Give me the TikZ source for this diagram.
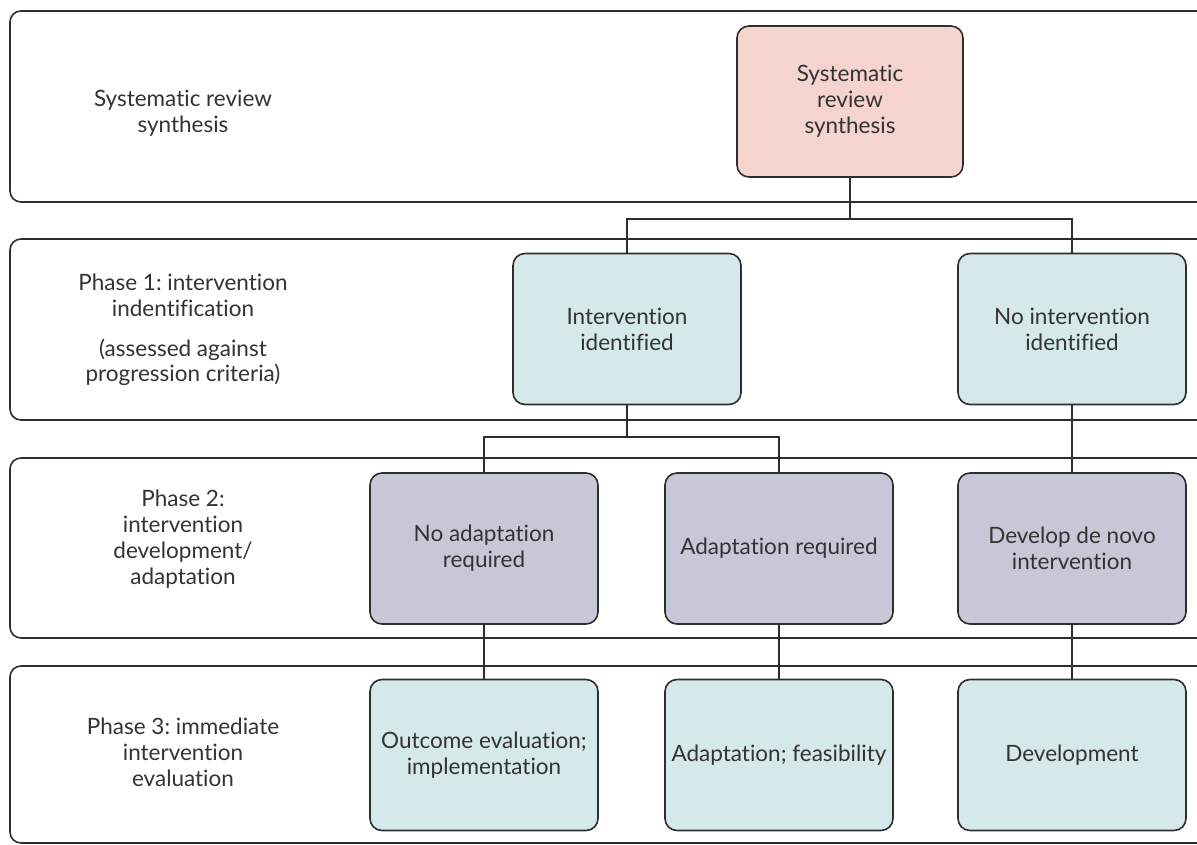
\documentclass[tikz,border=0pt]{standalone}
\usepackage{fontspec}
\setmainfont{Lato}[Ligatures=NoCommon]
\frenchspacing
\begin{document}
\begin{tikzpicture}[x=1pt,y=-1pt,
  every node/.style={font=\fontsize{22.5}{25.8}\selectfont, text=textc},
  band/.style={draw=linec, line width=1.6pt, rounded corners=11pt},
  stage/.style={draw=linec, line width=1.6pt, rounded corners=12pt,
    minimum width=228pt, minimum height=151pt, align=center, inner sep=1pt},
  label/.style={align=center},
  link/.style={draw=linec, line width=1.6pt}]
\definecolor{textc}{HTML}{333333}
\definecolor{linec}{HTML}{2E2E2E}
\definecolor{pinkf}{HTML}{F5D3CF}
\definecolor{bluef}{HTML}{D5E8EA}
\definecolor{lavf}{HTML}{C6C8D8}

\useasboundingbox (0,0) rectangle (1197,845);
\clip (0,0) rectangle (1197,845);

% horizontal phase bands, running off the right edge
\draw[band] (10,11) rectangle (1230,202);
\draw[band] (10,239) rectangle (1230,420);
\draw[band] (10,458) rectangle (1230,638);
\draw[band] (10,666) rectangle (1230,843);

% band labels
\node[label] (l0) at (183,113) {Systematic review\\synthesis};
\node[label] (l1) at (183,330) {Phase 1: intervention\\indentification\\[14pt](assessed against\\progression criteria)};
\node[label] (l2) at (183,539) {Phase 2:\\intervention\\development/\\adaptation};
\node[label] (l3) at (183,752) {Phase 3: immediate\\intervention\\evaluation};

% stage boxes
\node[stage, fill=pinkf, minimum width=226pt] (srs) at (850,101.5) {Systematic\\review\\synthesis};
\node[stage, fill=bluef] (ii) at (627,329) {Intervention\\identified};
\node[stage, fill=bluef] (ni) at (1072,329) {No intervention\\identified};
\node[stage, fill=lavf] (na) at (484,548.5) {No adaptation\\required};
\node[stage, fill=lavf] (ar) at (779,548.5) {Adaptation required};
\node[stage, fill=lavf] (dn) at (1072,548.5) {Develop de novo\\intervention};
\node[stage, fill=bluef] (oe) at (484,755) {Outcome evaluation;\\implementation};
\node[stage, fill=bluef] (af) at (779,755) {Adaptation; feasibility};
\node[stage, fill=bluef] (dev) at (1072,755) {Development};

% connectors
\coordinate (j1) at (850,219);
\coordinate (j2) at (627,437);
\draw[link] (srs.south) -- (j1);
\draw[link] (ii.north) |- (j1) -| (ni.north);
\draw[link] (ii.south) -- (j2);
\draw[link] (na.north) |- (j2) -| (ar.north);
\draw[link] (ni.south) -- (dn.north);
\draw[link] (na.south) -- (oe.north);
\draw[link] (ar.south) -- (af.north);
\draw[link] (dn.south) -- (dev.north);
\end{tikzpicture}
\end{document}
